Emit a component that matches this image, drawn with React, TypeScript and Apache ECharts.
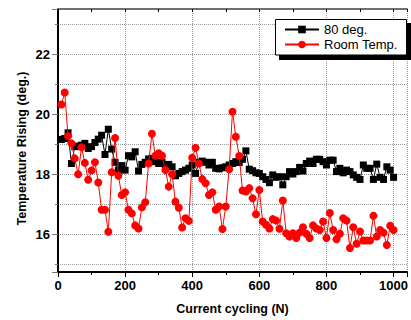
import React, { useEffect, useRef } from 'react';
import * as echarts from 'echarts';

const cycles = [
  10, 20, 30, 40, 50, 60, 70, 80, 90, 100,
  110, 120, 130, 140, 150, 160, 170, 180, 190, 200,
  210, 220, 230, 240, 250, 260, 270, 280, 290, 300,
  310, 320, 330, 340, 350, 360, 370, 380, 390, 400,
  410, 420, 430, 440, 450, 460, 470, 480, 490, 500,
  510, 520, 530, 540, 550, 560, 570, 580, 590, 600,
  610, 620, 630, 640, 650, 660, 670, 680, 690, 700,
  710, 720, 730, 740, 750, 760, 770, 780, 790, 800,
  810, 820, 830, 840, 850, 860, 870, 880, 890, 900,
  910, 920, 930, 940, 950, 960, 970, 980, 990, 1000,
];

const deg80 = [
  19.16, 19.19, 19.38, 18.36, 18.92, 18.94, 18.97, 19.03, 18.86, 18.92,
  19.06, 19.17, 19.3, 18.66, 19.5, 18.84, 18.4, 18.14, 18.29, 18.14,
  18.62, 18.58, 18.75, 18.11, 18.33, 18.4, 18.51, 18.53, 18.42, 18.36,
  18.4, 18.31, 18.33, 18.25, 17.95, 18.03, 18.09, 18.14, 18.2, 18.31,
  18.03, 18.4, 18.44, 18.4, 18.31, 18.4, 18.2, 18.18, 18.22, 18.25,
  18.31, 18.36, 18.42, 18.39, 18.5, 18.78, 18.17, 18.12, 18.05, 18.03,
  17.92, 17.83, 17.72, 17.98, 17.9, 17.92, 17.65, 17.92, 18.09, 18.01,
  18.09, 18.23, 18.11, 18.36, 18.44, 18.36, 18.5, 18.5, 18.42, 18.31,
  18.47, 18.47, 18.09, 18.2, 18.05, 18.14, 18.09, 17.98, 17.9, 17.83,
  18.31, 18.2, 18.2, 17.83, 18.34, 17.9, 17.83, 18.25, 18.14, 17.9,
];

const roomTemp = [
  20.32, 20.72, 19.27, 19.03, 18.53, 18.0, 18.9, 18.38, 17.82, 18.13,
  18.4, 17.73, 16.82, 16.82, 16.09, 18.07, 19.21, 17.95, 17.31, 17.4,
  16.82, 16.7, 16.3, 16.2, 16.9, 17.07, 18.36, 19.35, 18.62, 18.7,
  18.62, 18.14, 17.59, 18.0, 17.09, 16.89, 16.23, 16.54, 16.45, 18.55,
  18.88, 18.36, 17.84, 17.7, 17.31, 17.4, 16.82, 16.93, 16.18, 16.93,
  18.17, 20.08, 19.25, 18.61, 17.46, 17.43, 17.54, 17.2, 16.67, 17.48,
  16.43, 16.32, 16.2, 16.51, 16.46, 16.19, 17.13, 16.04, 15.93, 16.04,
  15.88, 16.06, 16.24, 16.02, 15.88, 16.3, 16.2, 16.15, 16.43, 15.88,
  16.71, 16.15, 15.84, 16.02, 16.54, 16.46, 15.55, 16.24, 15.69, 16.1,
  15.8, 15.8, 15.8, 16.62, 15.93, 16.15, 16.06, 15.65, 16.29, 16.15,
];

const xTickLabels = [0, 200, 400, 600, 800, 1000];
const yTickLabels = [16, 18, 20, 22];

const seriesNames = ['80 deg.', 'Room Temp.'];
const FONT = 'Liberation Sans, Arial, Helvetica, sans-serif';

export default function App() {
  const ref = useRef<HTMLDivElement>(null);

  useEffect(() => {
    if (!ref.current) return;
    const chart = echarts.init(ref.current, undefined, { renderer: 'svg' });

    const gridLine = { show: true, lineStyle: { color: '#9a9a9a', type: 'dotted', width: 1 } };

    chart.setOption({
      animation: false,
      grid: { left: 58, top: 9, width: 355, height: 263 },
      xAxis: [
        {
          type: 'value',
          position: 'bottom',
          min: 0,
          max: 1040,
          minInterval: 200,
          maxInterval: 200,
          axisLine: { show: true, onZero: false, lineStyle: { color: '#000', width: 2 } },
          axisTick: { show: true, inside: false, length: 5, lineStyle: { color: '#000', width: 1 } },
          minorTick: { show: true, splitNumber: 2, length: 3, lineStyle: { color: '#000', width: 1 } },
          axisLabel: {
            margin: 7,
            fontSize: 13,
            fontWeight: 'bold',
            color: '#000',
            fontFamily: FONT,
            formatter: (v: number) => (xTickLabels.includes(v) ? String(v) : ''),
          },
          splitLine: gridLine,
          name: 'Current cycling (N)',
          nameLocation: 'middle',
          nameGap: 30,
          nameTextStyle: { fontSize: 12.5, fontWeight: 'bold', color: '#000', fontFamily: FONT },
        },
        {
          type: 'value',
          position: 'top',
          min: 0,
          max: 1040,
          minInterval: 200,
          maxInterval: 200,
          axisLine: { show: true, onZero: false, lineStyle: { color: '#707070', width: 2 } },
          axisTick: { show: true, inside: true, length: 3, lineStyle: { color: '#000', width: 1 } },
          minorTick: { show: true, splitNumber: 2, length: 3, lineStyle: { color: '#000', width: 1 } },
          axisLabel: { show: false },
          splitLine: { show: false },
        },
      ],
      yAxis: [
        {
          type: 'value',
          min: 14.75,
          max: 23.5,
          minInterval: 2,
          maxInterval: 2,
          axisLine: { show: true, onZero: false, lineStyle: { color: '#000', width: 2 } },
          axisTick: { show: true, inside: false, length: 6, lineStyle: { color: '#777', width: 1 } },
          minorTick: { show: true, splitNumber: 2, length: 3, lineStyle: { color: '#777', width: 1 } },
          axisLabel: {
            margin: 8,
            fontSize: 13,
            fontWeight: 'bold',
            color: '#000',
            fontFamily: FONT,
            formatter: (v: number) => (yTickLabels.includes(v) ? String(v) : ''),
          },
          splitLine: gridLine,
          minorSplitLine: gridLine,
        },
      ],
      legend: {
        orient: 'vertical',
        left: 284,
        top: 23,
        itemWidth: 34,
        itemHeight: 9.5,
        itemGap: 2,
        padding: 0,
        z: 6,
        data: seriesNames,
        textStyle: { fontSize: 13, color: '#000', fontFamily: FONT },
      },
      graphic: [
        {
          type: 'rect',
          z: 4,
          silent: true,
          shape: { x: 279, y: 23, width: 132, height: 37 },
          style: { fill: '#000' },
        },
        {
          type: 'rect',
          z: 4,
          silent: true,
          shape: { x: 275.5, y: 19.5, width: 131, height: 35.5 },
          style: { fill: '#fff', stroke: '#000', lineWidth: 1 },
        },
        {
          type: 'text',
          z: 4,
          x: 22,
          y: 148.5,
          rotation: Math.PI / 2,
          style: {
            text: 'Temperature Rising (deg.)',
            fill: '#000',
            fontSize: 12.5,
            fontWeight: 'bold',
            fontFamily: FONT,
            align: 'center',
            verticalAlign: 'middle',
          },
        },
      ],
      series: [
        {
          name: seriesNames[0],
          type: 'line',
          xAxisIndex: 0,
          data: cycles.map((c, i) => [c, deg80[i]]),
          symbol: 'rect',
          symbolSize: 7,
          itemStyle: { color: '#000' },
          lineStyle: { color: '#000', width: 1 },
          z: 2,
        },
        {
          name: seriesNames[1],
          type: 'line',
          xAxisIndex: 0,
          data: cycles.map((c, i) => [c, roomTemp[i]]),
          symbol: 'circle',
          symbolSize: 8,
          itemStyle: { color: '#ff0000' },
          lineStyle: { color: '#ff0000', width: 1 },
          z: 3,
        },
      ],
    });

    return () => chart.dispose();
  }, []);

  return (
    <div
      ref={ref}
      style={{ position: 'fixed', left: 0, top: 0, width: 411, height: 320, background: '#fff' }}
    />
  );
}
